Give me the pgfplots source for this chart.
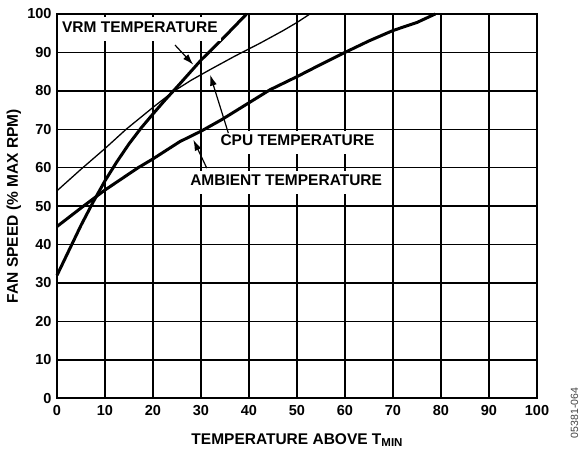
\documentclass[border=0pt]{standalone}
\usepackage{pgfplots}
\pgfplotsset{compat=1.18}
\usepackage{fontspec}
\setmainfont{Liberation Sans}
\usetikzlibrary{arrows.meta}
\begin{document}
\begin{tikzpicture}
\begin{axis}[
  scale only axis, width=480pt, height=384.3pt,
  xmin=0, xmax=100, ymin=0, ymax=100,
  xtick={0,10,...,100}, ytick={0,10,...,100},
  grid=major, major grid style={black, line width=1.3pt},
  axis line style={line width=2.3pt},
  major tick length=0pt,
  /pgf/number format/assume math mode=true,
  tick label style={font=\fontsize{14.5}{16}\selectfont\bfseries},
  xticklabel style={yshift=-4pt},
  yticklabel style={xshift=-2pt},
  xlabel={TEMPERATURE ABOVE T\raisebox{-0.3ex}{\fontsize{11.5}{12}\selectfont MIN}},
  ylabel={FAN SPEED (\% MAX RPM)},
  label style={font=\fontsize{15.5}{17}\selectfont\bfseries},
  xlabel style={at={(axis description cs:0.5,-0.119)}, anchor=base},
  ylabel style={at={(axis description cs:-0.0896,0.5)}, anchor=center},
  clip=false,
]
\coordinate (O) at (axis cs:0,0);
% VRM
\addplot[black, line width=3pt] coordinates {
 (0,32) (2.5,38.5) (5,45) (7.5,51) (10,56.6) (12.5,61.6) (15,66.2) (17.5,70.3) (20,74) (22.5,77.6) (25,81) (27.5,84.5) (30,88) (35,94.2) (39.5,100)};
% CPU
\addplot[black, line width=1.3pt] coordinates {
 (0,54) (5,59.6) (10,65) (14.4,70) (20,75.7) (24.2,79.8) (28,82.8) (32,85.6) (37,89) (42.3,92.4) (47,95.6) (50,97.8) (52.7,100)};
% Ambient
\addplot[black, line width=3pt] coordinates {
 (0,44.7) (5.5,50) (10,54.2) (16.9,60) (20,62.3) (25.6,66.8) (30,69.5) (34.3,72.5) (40,76.9) (44.4,80.3) (50,83.7) (55,86.9) (60,90) (65,93) (70,95.7) (75,97.8) (78.8,100)};
\tikzset{lab/.style={fill=white, anchor=west, inner xsep=3pt, inner ysep=8pt, text height=0.72em, text depth=0pt, font=\fontsize{15.5}{17}\selectfont\bfseries}}
\node[lab] at (axis cs:0.4,96.1) {VRM TEMPERATURE};
\node[lab] at (axis cs:33.4,66.6) {CPU TEMPERATURE};
\node[lab] at (axis cs:27.1,56.2) {AMBIENT TEMPERATURE};
\tikzset{arr/.style={line width=1.2pt, -{Latex[length=11pt,width=7pt]}}}
\draw[arr] (axis cs:24.6,91.9) -- (axis cs:28.4,86.8);
\draw[arr] (axis cs:35.7,69.0) -- (axis cs:31.9,84.2);
\draw[arr] (axis cs:31.2,59.9) -- (axis cs:28.4,67.3);
\end{axis}
\node[rotate=90, font=\fontsize{10.5}{12}\selectfont, text=black!75, inner sep=0pt] at ([shift={(517.5pt,-14.7pt)}]O) {05381-064};
\pgfresetboundingbox
\path[use as bounding box] ([shift={(-57pt,-50.7pt)}]O) rectangle ([shift={(522pt,398.3pt)}]O);
\end{tikzpicture}
\end{document}
